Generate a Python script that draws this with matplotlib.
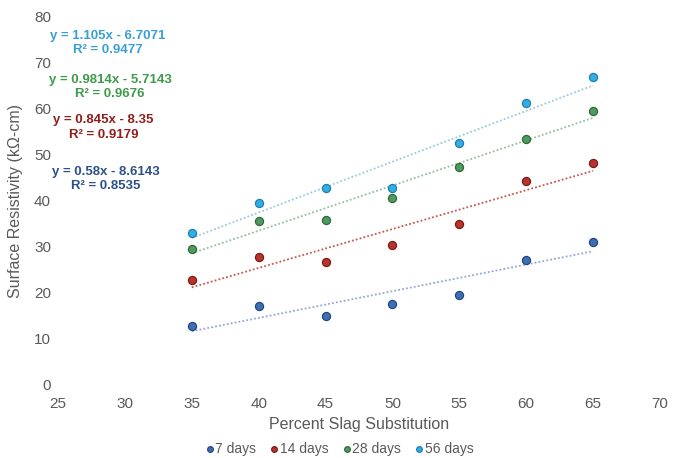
import matplotlib.pyplot as plt
import numpy as np

plt.rcParams["font.family"] = ["Liberation Sans", "DejaVu Sans"]

# Data
slag = [35, 40, 45, 50, 55, 60, 65]
days_7 = [12.9, 17.1, 15.1, 17.5, 19.5, 27.2, 31.1]
days_14 = [22.8, 27.9, 26.8, 30.4, 34.9, 44.3, 48.2]
days_28 = [29.6, 35.6, 35.8, 40.7, 47.3, 53.4, 59.6]
days_56 = [33.0, 39.6, 42.9, 42.8, 52.5, 61.2, 66.9]

labels = ["7 days", "14 days", "28 days", "56 days"]
slopes = [0.58, 0.845, 0.9814, 1.105]
intercepts = [-8.6143, -8.35, -5.7143, -6.7071]
equations = ["y = 0.58x - 8.6143", "y = 0.845x - 8.35",
             "y = 0.9814x - 5.7143", "y = 1.105x - 6.7071"]
r2_text = ["R² = 0.8535", "R² = 0.9179", "R² = 0.9676", "R² = 0.9477"]

x_ticks = [25, 30, 35, 40, 45, 50, 55, 60, 65, 70]
y_ticks = [0, 10, 20, 30, 40, 50, 60, 70, 80]

series = [days_7, days_14, days_28, days_56]
colors = ["#3e6fb5", "#b7332b", "#4f9a5e", "#33aee3"]
edge = ["#24477e", "#7a1d18", "#2f6a3b", "#1d7fb0"]
line_colors = ["#8fa9d3", "#c8574f", "#93bf9c", "#9cc8de"]
eq_colors = ["#2d508c", "#8e1f1a", "#3f9a4c", "#3a9fd6"]
# equation label positions (data coords): (x, y_eq, y_r2)
eq_pos = [(28.6, 46.4, 43.3), (28.4, 57.6, 54.3),
          (28.9, 66.4, 63.3), (28.7, 75.9, 72.9)]

grey = "#595959"

fig = plt.figure(figsize=(6.79, 4.58), dpi=100)
ax = fig.add_axes([0.0854, 0.1594, 0.8866, 0.8035])

xs = np.array([slag[0], slag[-1]], dtype=float)
for i, ys in enumerate(series):
    ax.plot(xs, slopes[i] * xs + intercepts[i], ls=(0, (1, 1.2)),
            lw=1.3, color=line_colors[i], zorder=2)
    ax.scatter(slag, ys, s=34, color=colors[i], edgecolors=edge[i],
               linewidths=0.9, zorder=3, label=labels[i])
    ex, ey, er = eq_pos[i]
    ax.text(ex, ey, equations[i], color=eq_colors[i], fontsize=9.5,
            fontweight="bold", ha="center", va="center")
    ax.text(ex, er, r2_text[i], color=eq_colors[i], fontsize=9.5,
            fontweight="bold", ha="center", va="center")

ax.set_xlim(25, 70)
ax.set_ylim(0, 80)
ax.set_xticks(x_ticks)
ax.set_yticks(y_ticks)
for s in ax.spines.values():
    s.set_visible(False)
ax.tick_params(length=0, labelsize=11, colors=grey, pad=5)
ax.tick_params(axis="x", pad=9)

ax.set_xlabel("Percent Slag Substitution", fontsize=11.5, color=grey,
              labelpad=4)
ax.set_ylabel("Surface Resistivity (kΩ-cm)", fontsize=11.5, color=grey,
              labelpad=8)

fig.legend(loc="center", bbox_to_anchor=(0.5, 0.02), ncol=4,
           frameon=False, fontsize=10, handlelength=0.6,
           handletextpad=0.1, columnspacing=1.0, markerscale=0.7,
           labelcolor=grey)

fig.savefig("out.png", dpi=100)
